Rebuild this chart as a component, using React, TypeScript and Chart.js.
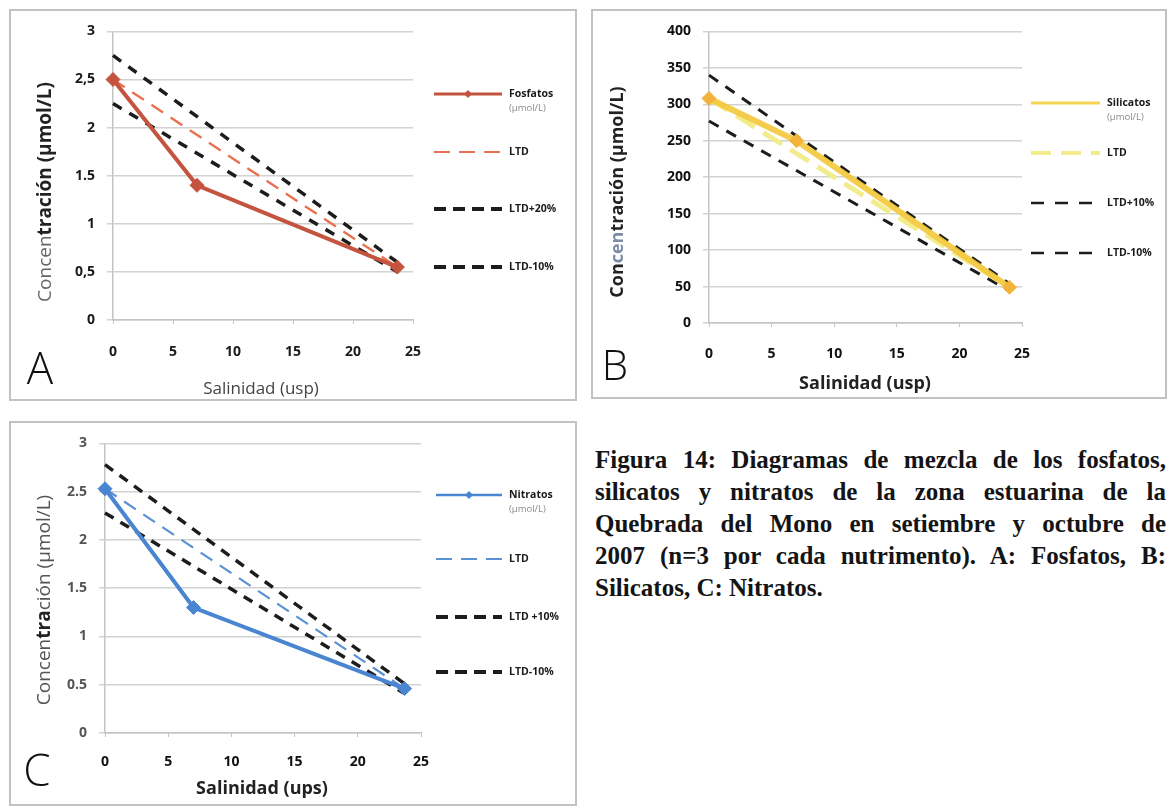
import { useEffect, useRef } from "react";
import { Chart, registerables } from "chart.js";

Chart.register(...registerables);

// ---- Data: salinity (ups) and nutrient concentrations (µmol/L) ----
const salinidadA = [0, 7, 23.7];
const fosfatos = [2.5, 1.4, 0.55];
const ltdSalA = [0, 23.7];
const fosfatosLTD = [2.5, 0.55];
const fosfatosLTDmas = [2.75, 0.6];
const fosfatosLTDmenos = [2.25, 0.5];

const salinidadB = [0, 7, 24];
const silicatos = [308, 250, 49];
const ltdSalB = [0, 24];
const silicatosLTD = [308, 49];
const silicatosLTDmas = [340, 54];
const silicatosLTDmenos = [277, 44];

const salinidadC = [0, 7, 23.7];
const nitratos = [2.53, 1.3, 0.46];
const ltdSalC = [0, 23.7];
const nitratosLTD = [2.53, 0.46];
const nitratosLTDmas = [2.78, 0.51];
const nitratosLTDmenos = [2.28, 0.41];

// ---- Tick labels ----
const xTickLabels = ["0", "5", "10", "15", "20", "25"];
const yTickLabelsA = ["0", "0,5", "1", "1.5", "2", "2,5", "3"];
const yTickLabelsB = ["0", "50", "100", "150", "200", "250", "300", "350", "400"];
const yTickLabelsC = ["0", "0.5", "1", "1.5", "2", "2.5", "3"];

// ---- Legend labels ----
const legendA = ["Fosfatos", "LTD", "LTD+20%", "LTD-10%"];
const legendB = ["Silicatos", "LTD", "LTD+10%", "LTD-10%"];
const legendC = ["Nitratos", "LTD", "LTD +10%", "LTD-10%"];
const unidad = "(µmol/L)";

const captionLines = [
  "Figura 14: Diagramas de mezcla de los fosfatos,",
  "silicatos y nitratos de la zona estuarina de la",
  "Quebrada del Mono en setiembre y octubre de",
  "2007 (n=3 por cada nutrimento). A: Fosfatos, B:",
  "Silicatos, C: Nitratos.",
];

const SANS = '"Open Sans", Lato, "DejaVu Sans", sans-serif';
const BORDER = 2;

const pts = (xs: number[], ys: number[]) => xs.map((x, i) => ({ x, y: ys[i] }));

type Seg = { text: string; bold?: boolean; color: string };
type LegendItem = {
  label: string;
  sub?: string;
  color: string;
  width: number;
  dash: number[];
  marker?: boolean;
  y: number;
};

interface PanelSpec {
  box: { left: number; top: number; width: number; height: number };
  plot: { left: number; right: number; top: number; bottom: number };
  yMax: number;
  yStep: number;
  yLabels: string[];
  yTickColor: string;
  xTickColor: string;
  yTickPad: number;
  xTickPad: number;
  datasets: any[];
  yTitle: { segs: Seg[]; x: number; y: number; size: number };
  xTitle: { segs: Seg[]; x: number; y: number; size: number };
  letter: { text: string; x: number; y: number; size: number };
  legend: { x1: number; x2: number; tx: number; items: LegendItem[] };
}

function series(label: string, xs: number[], ys: number[], color: string, width: number) {
  return {
    label,
    data: pts(xs, ys),
    showLine: true,
    borderColor: color,
    backgroundColor: color,
    borderWidth: width,
    pointStyle: "rectRot",
    pointRadius: 7,
    pointBorderWidth: 1,
    pointBackgroundColor: color,
    pointBorderColor: color,
    clip: false,
  };
}

function dashed(label: string, xs: number[], ys: number[], color: string, width: number, dash: number[]) {
  return {
    label,
    data: pts(xs, ys),
    showLine: true,
    borderColor: color,
    backgroundColor: color,
    borderWidth: width,
    borderDash: dash,
    pointRadius: 0,
    clip: false,
  };
}

function drawSegs(ctx: CanvasRenderingContext2D, segs: Seg[], size: number, cx: number, cy: number, rotate: boolean) {
  ctx.save();
  ctx.translate(cx, cy);
  if (rotate) ctx.rotate(-Math.PI / 2);
  ctx.textBaseline = "middle";
  ctx.textAlign = "left";
  const fontOf = (s: Seg) => `${s.bold ? "bold " : ""}${size}px ${SANS}`;
  let total = 0;
  for (const s of segs) {
    ctx.font = fontOf(s);
    total += ctx.measureText(s.text).width;
  }
  let x = -total / 2;
  for (const s of segs) {
    ctx.font = fontOf(s);
    ctx.fillStyle = s.color;
    ctx.fillText(s.text, x, 0);
    x += ctx.measureText(s.text).width;
  }
  ctx.restore();
}

function Panel({ spec }: { spec: PanelSpec }) {
  const ref = useRef<HTMLCanvasElement>(null);
  const ox = spec.box.left + BORDER;
  const oy = spec.box.top + BORDER;
  const W = spec.box.width - 2 * BORDER;
  const H = spec.box.height - 2 * BORDER;

  useEffect(() => {
    const cv = ref.current;
    if (!cv) return;
    const pl = spec.plot.left - ox;
    const pr = spec.plot.right - ox;
    const pt = spec.plot.top - oy;
    const pb = spec.plot.bottom - oy;

    const decor = {
      id: "panelDecor",
      afterDraw(chart: any) {
        const ctx: CanvasRenderingContext2D = chart.ctx;
        drawSegs(ctx, spec.yTitle.segs, spec.yTitle.size, spec.yTitle.x - ox, spec.yTitle.y - oy, true);
        drawSegs(ctx, spec.xTitle.segs, spec.xTitle.size, spec.xTitle.x - ox, spec.xTitle.y - oy, false);

        ctx.save();
        ctx.font = `300 ${spec.letter.size}px ${SANS}`;
        ctx.fillStyle = "#111";
        ctx.textAlign = "center";
        ctx.textBaseline = "middle";
        ctx.fillText(spec.letter.text, spec.letter.x - ox, spec.letter.y - oy);
        ctx.restore();

        const lg = spec.legend;
        for (const it of lg.items) {
          const y = it.y - oy;
          ctx.save();
          ctx.strokeStyle = it.color;
          ctx.lineWidth = it.width;
          ctx.setLineDash(it.dash);
          ctx.beginPath();
          ctx.moveTo(lg.x1 - ox, y);
          ctx.lineTo(lg.x2 - ox, y);
          ctx.stroke();
          if (it.marker) {
            const mx = (lg.x1 + lg.x2) / 2 - ox;
            ctx.setLineDash([]);
            ctx.fillStyle = it.color;
            ctx.beginPath();
            ctx.moveTo(mx, y - 4);
            ctx.lineTo(mx + 4, y);
            ctx.lineTo(mx, y + 4);
            ctx.lineTo(mx - 4, y);
            ctx.closePath();
            ctx.fill();
          }
          ctx.fillStyle = "#1a1a1a";
          ctx.font = `bold 10.5px ${SANS}`;
          ctx.textAlign = "left";
          ctx.textBaseline = "middle";
          ctx.fillText(it.label, lg.tx - ox, y);
          if (it.sub) {
            ctx.fillStyle = "#8a8a8a";
            ctx.font = `9.5px ${SANS}`;
            ctx.fillText(it.sub, lg.tx - ox, y + 14);
          }
          ctx.restore();
        }
      },
    };

    const chart = new Chart(cv, {
      type: "scatter",
      data: { datasets: spec.datasets },
      options: {
        animation: false,
        responsive: false,
        maintainAspectRatio: false,
        devicePixelRatio: 1,
        layout: { padding: { left: 0, top: pt, right: W - pr, bottom: 0 } },
        plugins: { legend: { display: false }, tooltip: { enabled: false } },
        scales: {
          x: {
            type: "linear",
            min: 0,
            max: 25,
            ticks: {
              stepSize: 5,
              padding: spec.xTickPad,
              color: spec.xTickColor,
              font: { family: SANS, size: 14, weight: "bold" },
              callback: (_v: any, i: number) => xTickLabels[i],
            },
            grid: {
              drawOnChartArea: false,
              drawTicks: true,
              tickLength: 4,
              tickColor: "#c4c4c4",
            },
            border: { display: true, color: "#c4c4c4", width: 1.5 },
            afterFit: (s: any) => {
              s.height = H - pb;
            },
          },
          y: {
            type: "linear",
            min: 0,
            max: spec.yMax,
            ticks: {
              stepSize: spec.yStep,
              padding: spec.yTickPad,
              color: spec.yTickColor,
              font: { family: SANS, size: 14, weight: "bold" },
              callback: (_v: any, i: number) => spec.yLabels[i],
            },
            grid: {
              color: "#d2d2d2",
              lineWidth: 1.5,
              drawTicks: true,
              tickLength: 6,
              tickColor: "#d2d2d2",
            },
            border: { display: true, color: "#c4c4c4", width: 1.5 },
            afterFit: (s: any) => {
              s.width = pl;
            },
          },
        },
      } as any,
      plugins: [decor],
    });
    return () => chart.destroy();
  }, []);

  return (
    <>
      <div
        style={{
          position: "absolute",
          left: spec.box.left,
          top: spec.box.top,
          width: spec.box.width,
          height: spec.box.height,
          boxSizing: "border-box",
          border: `${BORDER}px solid #c2c2c2`,
          background: "#fff",
        }}
      />
      <canvas
        ref={ref}
        width={W}
        height={H}
        style={{ position: "absolute", left: ox, top: oy, width: W, height: H }}
      />
    </>
  );
}

const BLACK = "#1c1c1c";

const specA: PanelSpec = {
  box: { left: 9, top: 9, width: 568, height: 392 },
  plot: { left: 113, right: 413, top: 27, bottom: 320 },
  yMax: 3,
  yStep: 0.5,
  yLabels: yTickLabelsA,
  yTickColor: "#1a1a1a",
  xTickColor: "#1a1a1a",
  yTickPad: 12,
  xTickPad: 20,
  datasets: [
    series(legendA[0], salinidadA, fosfatos, "#c4533f", 4),
    dashed(legendA[1], ltdSalA, fosfatosLTD, "#e8714f", 2.4, [14, 9]),
    dashed(legendA[2], ltdSalA, fosfatosLTDmas, BLACK, 3.5, [10, 9]),
    dashed(legendA[3], ltdSalA, fosfatosLTDmenos, BLACK, 3.5, [10, 9]),
  ],
  yTitle: {
    segs: [
      { text: "Concen", color: "#666" },
      { text: "tración (µmol/L)", bold: true, color: "#222" },
    ],
    x: 46,
    y: 192,
    size: 19,
  },
  xTitle: { segs: [{ text: "Salinidad (usp)", color: "#444" }], x: 261, y: 389, size: 17 },
  letter: { text: "A", x: 40, y: 371, size: 44 },
  legend: {
    x1: 434,
    x2: 502,
    tx: 509,
    items: [
      { label: legendA[0], sub: unidad, color: "#c4533f", width: 3, dash: [], marker: true, y: 94 },
      { label: legendA[1], color: "#e8714f", width: 2, dash: [16, 9], y: 152 },
      { label: legendA[2], color: BLACK, width: 4, dash: [12, 7], y: 209 },
      { label: legendA[3], color: BLACK, width: 4, dash: [12, 7], y: 267 },
    ],
  },
};

const specB: PanelSpec = {
  box: { left: 591, top: 9, width: 576, height: 390 },
  plot: { left: 709, right: 1022, top: 28, bottom: 323 },
  yMax: 400,
  yStep: 50,
  yLabels: yTickLabelsB,
  yTickColor: "#111",
  xTickColor: "#111",
  yTickPad: 12,
  xTickPad: 19,
  datasets: [
    { ...series(legendB[0], salinidadB, silicatos, "rgba(244, 200, 58, 0.9)", 6), pointRadius: 7, pointBackgroundColor: "#f3b23a", pointBorderColor: "#f3b23a" },
    dashed(legendB[1], ltdSalB, silicatosLTD, "#f2ec8c", 5, [22, 10]),
    dashed(legendB[2], ltdSalB, silicatosLTDmas, BLACK, 3, [11, 9]),
    dashed(legendB[3], ltdSalB, silicatosLTDmenos, BLACK, 3, [11, 9]),
  ],
  yTitle: {
    segs: [
      { text: "Con", bold: true, color: "#222" },
      { text: "cen", bold: true, color: "#7d8ca2" },
      { text: "tración (µmol/L)", bold: true, color: "#222" },
    ],
    x: 618,
    y: 192,
    size: 18,
  },
  xTitle: { segs: [{ text: "Salinidad (usp)", bold: true, color: "#222" }], x: 865, y: 384, size: 18 },
  letter: { text: "B", x: 615, y: 368, size: 42 },
  legend: {
    x1: 1031,
    x2: 1100,
    tx: 1107,
    items: [
      { label: legendB[0], sub: unidad, color: "#f5d452", width: 3, dash: [], y: 103 },
      { label: legendB[1], color: "#f2ec8c", width: 4, dash: [20, 10], y: 153 },
      { label: legendB[2], color: BLACK, width: 2.5, dash: [13, 11], y: 203 },
      { label: legendB[3], color: BLACK, width: 2.5, dash: [13, 11], y: 253 },
    ],
  },
};

const specC: PanelSpec = {
  box: { left: 9, top: 421, width: 568, height: 385 },
  plot: { left: 105, right: 421, top: 439, bottom: 733 },
  yMax: 3,
  yStep: 0.5,
  yLabels: yTickLabelsC,
  yTickColor: "#555",
  xTickColor: "#111",
  yTickPad: 12,
  xTickPad: 17,
  datasets: [
    series(legendC[0], salinidadC, nitratos, "#4a85d1", 4),
    dashed(legendC[1], ltdSalC, nitratosLTD, "#5a90d4", 2.2, [14, 9]),
    dashed(legendC[2], ltdSalC, nitratosLTDmas, BLACK, 3.5, [10, 8]),
    dashed(legendC[3], ltdSalC, nitratosLTDmenos, BLACK, 3.5, [10, 8]),
  ],
  yTitle: {
    segs: [
      { text: "Concen", color: "#555" },
      { text: "tra", bold: true, color: "#222" },
      { text: "ción (µmol/L)", color: "#555" },
    ],
    x: 45,
    y: 600,
    size: 19,
  },
  xTitle: { segs: [{ text: "Salinidad (ups)", bold: true, color: "#222" }], x: 262, y: 789, size: 18 },
  letter: { text: "C", x: 37, y: 773, size: 44 },
  legend: {
    x1: 436,
    x2: 502,
    tx: 509,
    items: [
      { label: legendC[0], sub: unidad, color: "#4a85d1", width: 2.5, dash: [], marker: true, y: 495 },
      { label: legendC[1], color: "#5a90d4", width: 2, dash: [16, 9], y: 559 },
      { label: legendC[2], color: BLACK, width: 4, dash: [12, 7], y: 617 },
      { label: legendC[3], color: BLACK, width: 4, dash: [12, 7], y: 672 },
    ],
  },
};

export default function App() {
  return (
    <div style={{ position: "absolute", left: 0, top: 0, width: 1176, height: 810, background: "#fff", overflow: "hidden" }}>
      <Panel spec={specA} />
      <Panel spec={specB} />
      <Panel spec={specC} />
      <div
        style={{
          position: "absolute",
          left: 595,
          top: 444,
          width: 571,
          fontFamily: '"Liberation Serif", "Times New Roman", serif',
          fontWeight: "bold",
          fontSize: 25,
          lineHeight: "32px",
          color: "#141414",
        }}
      >
        {captionLines.map((line, i) => (
          <div
            key={i}
            style={{
              textAlign: "justify",
              textAlignLast: i === captionLines.length - 1 ? "left" : "justify",
              whiteSpace: "nowrap",
            }}
          >
            {line}
          </div>
        ))}
      </div>
    </div>
  );
}
